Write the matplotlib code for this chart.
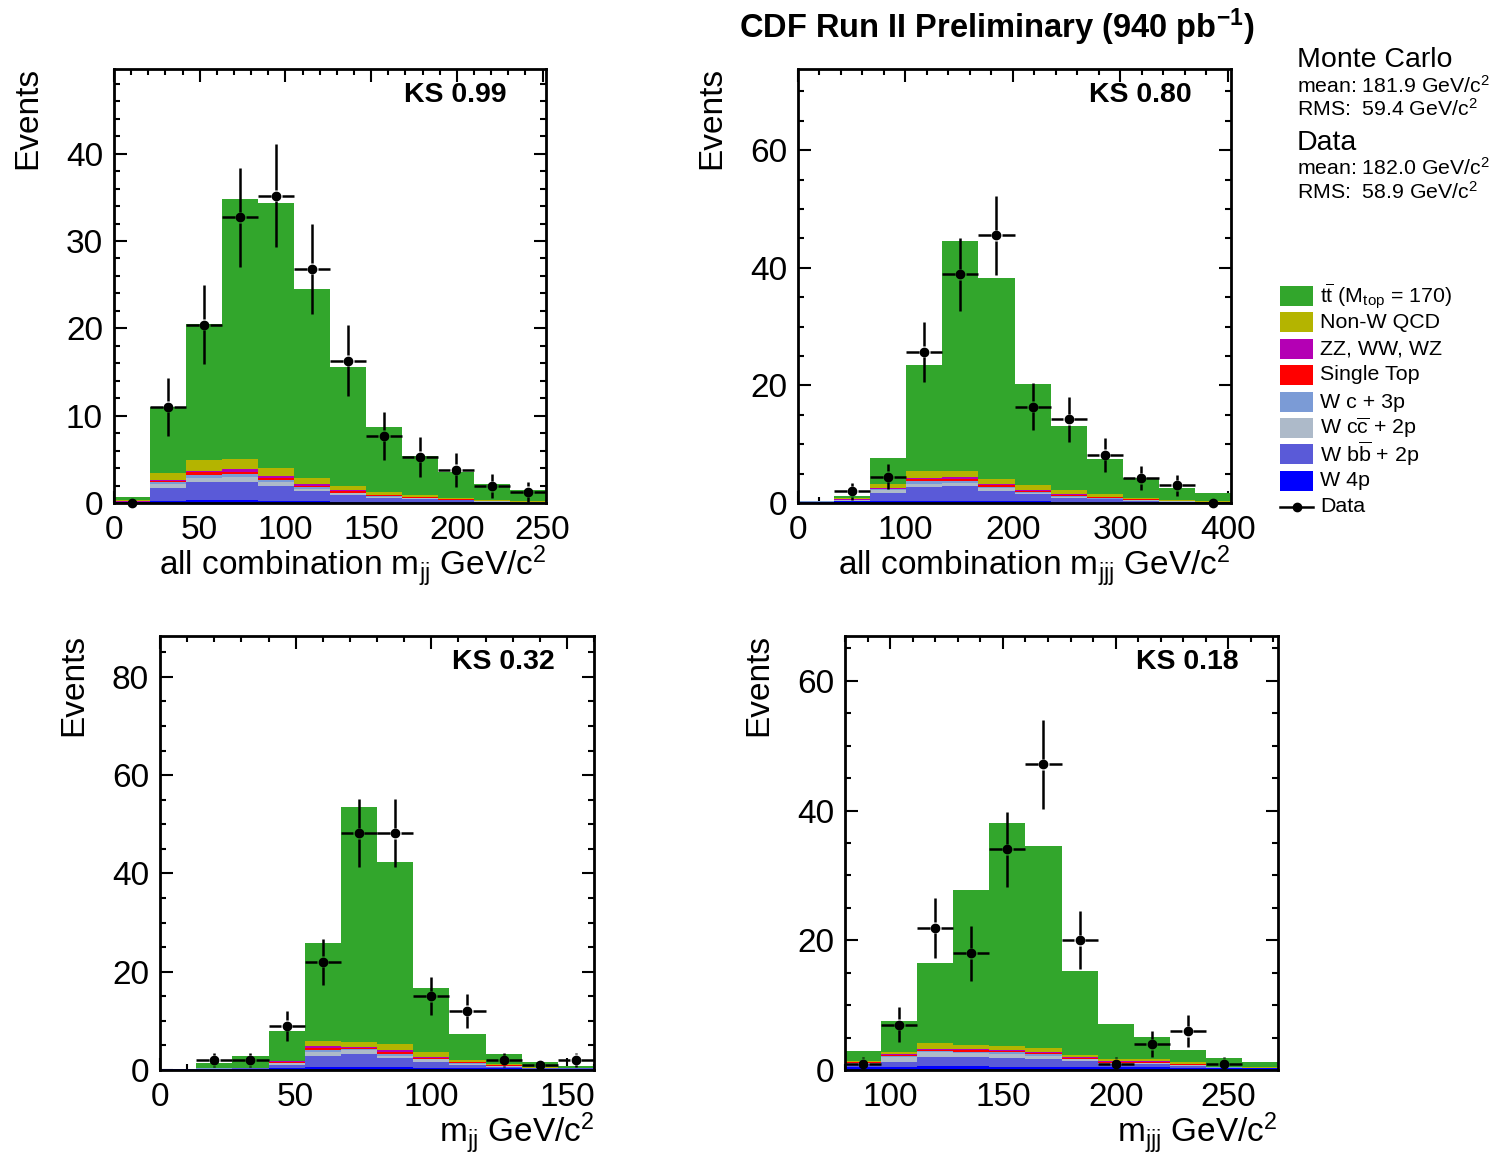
import numpy as np
import matplotlib
matplotlib.use("Agg")
import matplotlib.pyplot as plt
from matplotlib.collections import LineCollection
from matplotlib.patches import Rectangle
from matplotlib.lines import Line2D
from matplotlib.ticker import MultipleLocator

plt.rcParams['font.family'] = ['Liberation Sans', 'DejaVu Sans']
plt.rcParams['mathtext.fontset'] = 'custom'
plt.rcParams['mathtext.rm'] = 'Liberation Sans'
plt.rcParams['mathtext.it'] = 'Liberation Sans:italic'
plt.rcParams['mathtext.bf'] = 'Liberation Sans:bold'

W, H = 1494, 1157

# ---- all combination m_jj (12 bins, 0-252) ----
mjj_all_edges = np.linspace(0, 252, 13)
mjj_all_w4p = [0.1, 0.25, 0.3, 0.3, 0.25, 0.2, 0.15, 0.12, 0.1, 0.08, 0.06, 0.05]
mjj_all_wbb = [0.02, 1.51, 2.1, 2.1, 1.7, 1.14, 0.8, 0.45, 0.32, 0.22, 0.09, 0.05]
mjj_all_wcc = [0.02, 0.44, 0.5, 0.6, 0.45, 0.26, 0.15, 0.15, 0.11, 0.06, 0.04, 0.02]
mjj_all_wc = [0.01, 0.2, 0.35, 0.3, 0.2, 0.18, 0.1, 0.08, 0.05, 0.04, 0.02, 0.01]
mjj_all_st = [0.02, 0.1, 0.25, 0.25, 0.3, 0.17, 0.14, 0.07, 0.05, 0.04, 0.03, 0.02]
mjj_all_vv = [0.02, 0.1, 0.2, 0.35, 0.2, 0.25, 0.11, 0.08, 0.05, 0.03, 0.02, 0.01]
mjj_all_qcd = [0.21, 0.8, 1.2, 1.1, 0.96, 0.7, 0.55, 0.31, 0.22, 0.1, 0.14, 0.09]
mjj_all_tt = [0.3, 7.6, 15.6, 29.8, 30.3, 21.6, 13.6, 7.4, 4.5, 3.0, 1.75, 1.25]
mjj_all_data = [0, 11.0, 20.4, 32.7, 35.2, 26.8, 16.3, 7.7, 5.3, 3.8, 1.9, 1.3]

# ---- all combination m_jjj (12 bins, 0-403) ----
mjjj_all_edges = np.linspace(0, 403.2, 13)
mjjj_all_w4p = [0.2, 0.3, 0.35, 0.4, 0.4, 0.35, 0.3, 0.25, 0.2, 0.15, 0.12, 0.1]
mjjj_all_wbb = [0.04, 0.1, 1.41, 2.3, 2.44, 1.75, 1.2, 0.65, 0.4, 0.25, 0.1, 0.05]
mjjj_all_wcc = [0.01, 0.05, 0.44, 0.6, 0.56, 0.4, 0.26, 0.2, 0.15, 0.1, 0.05, 0.03]
mjjj_all_wc = [0.01, 0.05, 0.15, 0.4, 0.35, 0.2, 0.14, 0.1, 0.1, 0.05, 0.03, 0.02]
mjjj_all_st = [0.01, 0.05, 0.1, 0.3, 0.25, 0.3, 0.2, 0.2, 0.12, 0.1, 0.05, 0.03]
mjjj_all_vv = [0.01, 0.05, 0.15, 0.26, 0.4, 0.3, 0.1, 0.1, 0.08, 0.05, 0.03, 0.02]
mjjj_all_qcd = [0.02, 0.2, 0.7, 1.24, 1.05, 0.8, 0.9, 0.7, 0.55, 0.2, 0.12, 0.05]
mjjj_all_tt = [0.05, 0.34, 4.3, 17.9, 39.1, 34.2, 17.2, 10.9, 5.85, 3.36, 2.06, 1.35]
mjjj_all_data = [np.nan, 2.0, 4.5, 25.7, 38.9, 45.5, 16.4, 14.2, 8.2, 4.2, 3.0, 0]

# ---- m_jj (12 bins, 0-160) ----
mjj_edges = np.linspace(0, 160, 13)
mjj_w4p = [0.2, 0.25, 0.3, 0.4, 0.6, 0.6, 0.55, 0.45, 0.4, 0.35, 0.3, 0.3]
mjj_wbb = [0.0, 0.03, 0.1, 0.7, 2.15, 2.6, 1.95, 1.22, 0.7, 0.2, 0.08, 0.04]
mjj_wcc = [0.01, 0.02, 0.03, 0.3, 0.85, 0.8, 0.45, 0.53, 0.2, 0.2, 0.04, 0.02]
mjj_wc = [0.01, 0.01, 0.02, 0.1, 0.4, 0.2, 0.25, 0.1, 0.1, 0.1, 0.03, 0.02]
mjj_st = [0.01, 0.01, 0.01, 0.15, 0.5, 0.3, 0.5, 0.2, 0.2, 0.1, 0.03, 0.02]
mjj_vv = [0.01, 0.01, 0.02, 0.1, 0.3, 0.2, 0.3, 0.2, 0.1, 0.05, 0.02, 0.02]
mjj_qcd = [0.01, 0.02, 0.02, 0.15, 1.2, 0.9, 1.2, 0.9, 0.4, 0.3, 0.1, 0.03]
mjj_tt = [0.05, 1.05, 2.45, 6.1, 19.9, 47.9, 37.2, 13.1, 5.3, 2.0, 1.07, 0.4]
mjj_data = [np.nan, 2.0, 2.0, 9.0, 22.0, 48.2, 48.2, 15.0, 12.05, 2.0, 1.0, 2.1]

# ---- m_jjj (12 bins, 80-272) ----
mjjj_edges = np.linspace(80, 272, 13)
mjjj_w4p = [0.5, 0.5, 0.55, 0.55, 0.5, 0.5, 0.45, 0.4, 0.4, 0.35, 0.3, 0.3]
mjjj_wbb = [0.5, 0.73, 1.5, 1.45, 1.35, 1.2, 0.95, 0.55, 0.6, 0.25, 0.05, 0.0]
mjjj_wcc = [0.05, 0.72, 0.65, 0.56, 0.6, 0.5, 0.3, 0.1, 0.1, 0.1, 0.03, 0.02]
mjjj_wc = [0.05, 0.15, 0.2, 0.24, 0.25, 0.2, 0.05, 0.1, 0.05, 0.1, 0.02, 0.02]
mjjj_st = [0.1, 0.26, 0.2, 0.3, 0.2, 0.2, 0.1, 0.1, 0.15, 0.15, 0.02, 0.02]
mjjj_vv = [0.1, 0.09, 0.1, 0.2, 0.2, 0.2, 0.15, 0.15, 0.1, 0.05, 0.03, 0.02]
mjjj_qcd = [0.13, 0.35, 1.0, 0.5, 0.6, 0.6, 0.36, 0.34, 0.25, 0.2, 0.05, 0.02]
mjjj_tt = [1.57, 4.8, 12.3, 24.0, 34.3, 31.2, 12.9, 5.36, 3.45, 1.9, 1.4, 0.9]
mjjj_data = [1.0, 7.0, 21.9, 18.0, 34.0, 47.1, 20.0, 1.0, 3.95, 6.0, 1.0, np.nan]

# stack order, bottom to top
samples = ['w4p', 'wbb', 'wcc', 'wc', 'st', 'vv', 'qcd', 'tt']
colors = {
    'tt': '#32a62c', 'qcd': '#b4b400', 'vv': '#b400b4', 'st': '#ff0000',
    'wc': '#7b9bd6', 'wcc': '#adbac9', 'wbb': '#5a5ad8', 'w4p': '#0000ff',
}
legend_labels = {
    'tt': r't$\overline{\rm t}$ (M$_{\rm top}$ = 170)',
    'qcd': 'Non-W QCD',
    'vv': 'ZZ, WW, WZ',
    'st': 'Single Top',
    'wc': 'W c + 3p',
    'wcc': r'W c$\overline{\rm c}$ + 2p',
    'wbb': r'W b$\overline{\rm b}$ + 2p',
    'w4p': 'W 4p',
}

panels = [
    dict(box=(114, 69, 546, 503), edges=mjj_all_edges, ymax=49.7,
         stack=[mjj_all_w4p, mjj_all_wbb, mjj_all_wcc, mjj_all_wc, mjj_all_st,
                mjj_all_vv, mjj_all_qcd, mjj_all_tt],
         data=mjj_all_data, ks='KS 0.99', xmaj=50, xmin=10, ymaj=10, ymin=2,
         xlabel=r'all combination m$_{\rm jj}$ GeV/c$^{2}$'),
    dict(box=(798, 69, 1231, 503), edges=mjjj_all_edges, ymax=73.8,
         stack=[mjjj_all_w4p, mjjj_all_wbb, mjjj_all_wcc, mjjj_all_wc, mjjj_all_st,
                mjjj_all_vv, mjjj_all_qcd, mjjj_all_tt],
         data=mjjj_all_data, ks='KS 0.80', xmaj=100, xmin=20, ymaj=20, ymin=5,
         xlabel=r'all combination m$_{\rm jjj}$ GeV/c$^{2}$'),
    dict(box=(160, 636, 594, 1070), edges=mjj_edges, ymax=88.3,
         stack=[mjj_w4p, mjj_wbb, mjj_wcc, mjj_wc, mjj_st, mjj_vv, mjj_qcd, mjj_tt],
         data=mjj_data, ks='KS 0.32', xmaj=50, xmin=10, ymaj=20, ymin=5,
         xlabel=r'm$_{\rm jj}$ GeV/c$^{2}$'),
    dict(box=(845, 636, 1278, 1070), edges=mjjj_edges, ymax=66.9,
         stack=[mjjj_w4p, mjjj_wbb, mjjj_wcc, mjjj_wc, mjjj_st, mjjj_vv, mjjj_qcd, mjjj_tt],
         data=mjjj_data, ks='KS 0.18', xmaj=50, xmin=10, ymaj=20, ymin=5,
         xlabel=r'm$_{\rm jjj}$ GeV/c$^{2}$'),
]


def draw_data(ax, edges, vals, gap_px=5.5):
    vals = np.asarray(vals, dtype=float)
    centers = 0.5 * (edges[:-1] + edges[1:])
    bb = ax.get_window_extent()
    x0, x1 = ax.get_xlim()
    y0, y1 = ax.get_ylim()
    gx = gap_px * (x1 - x0) / bb.width
    gy = gap_px * (y1 - y0) / bb.height
    segs = []
    for lo, hi, c, v in zip(edges[:-1], edges[1:], centers, vals):
        if np.isnan(v):
            continue
        err = np.sqrt(v)
        # horizontal bin-width bars, broken around the marker
        segs.append([(lo, v), (c - gx, v)])
        segs.append([(c + gx, v), (hi, v)])
        if err > gy:
            segs.append([(c, v - err), (c, v - gy)])
            segs.append([(c, v + gy), (c, v + err)])
    ax.add_collection(LineCollection(segs, colors='black', linewidths=1.8, zorder=5))
    ok = ~np.isnan(vals)
    ax.plot(centers[ok], vals[ok], 'o', color='black', ms=6, zorder=6, clip_on=False)


fig = plt.figure(figsize=(W / 100, H / 100), dpi=100)

for p in panels:
    l, t, r, b = p['box']
    ax = fig.add_axes([l / W, 1 - b / H, (r - l) / W, (b - t) / H])
    edges = p['edges']
    ax.set_xlim(edges[0], edges[-1])
    ax.set_ylim(0, p['ymax'])

    base = np.zeros(len(edges) - 1)
    for name, vals in zip(samples, p['stack']):
        top = base + np.asarray(vals)
        ax.stairs(top, edges, baseline=base, fill=True, color=colors[name], lw=0, zorder=2)
        base = top

    draw_data(ax, edges, p['data'])

    ax.xaxis.set_major_locator(MultipleLocator(p['xmaj']))
    ax.xaxis.set_minor_locator(MultipleLocator(p['xmin']))
    ax.yaxis.set_major_locator(MultipleLocator(p['ymaj']))
    ax.yaxis.set_minor_locator(MultipleLocator(p['ymin']))
    ax.tick_params(which='both', direction='in', top=True, right=True, width=1.5,
                   labelsize=24)
    ax.tick_params(which='major', length=9)
    ax.tick_params(which='minor', length=4.5)
    ax.tick_params(axis='x', pad=8.5)
    ax.tick_params(axis='y', pad=8)
    for s in ax.spines.values():
        s.set_linewidth(2)
        s.set_zorder(10)

    fig.text((l - 86) / W, 1 - (t - 2) / H, 'Events', rotation=90,
             ha='center', va='top', fontsize=24)
    fig.text((r - 39) / W, 1 - (t + 26) / H, p['ks'], ha='right', va='center',
             fontsize=20.5, fontweight='bold')
    fig.text(r / W, 1 - (b + 73) / H, p['xlabel'], ha='right', va='baseline',
             fontsize=24)

fig.text(997 / W, 1 - 27 / H, r'CDF Run II Preliminary (940 pb$^{\mathbf{-1}}$)',
         ha='center', va='center', fontsize=23.5, fontweight='bold')

# fit summary
fig.text(1297 / W, 1 - 60 / H, 'Monte Carlo', ha='left', va='center', fontsize=20.5)
fig.text(1297 / W, 1 - 86 / H, r'mean: 181.9 GeV/c$^{2}$', ha='left', va='center', fontsize=15.3)
fig.text(1297 / W, 1 - 109 / H, r'RMS:  59.4 GeV/c$^{2}$', ha='left', va='center', fontsize=15.3)
fig.text(1297 / W, 1 - 143 / H, 'Data', ha='left', va='center', fontsize=20.5)
fig.text(1297 / W, 1 - 168 / H, r'mean: 182.0 GeV/c$^{2}$', ha='left', va='center', fontsize=15.3)
fig.text(1297 / W, 1 - 192 / H, r'RMS:  58.9 GeV/c$^{2}$', ha='left', va='center', fontsize=15.3)

# legend drawn by hand, top entry = top of stack
legend_rows = [296, 322, 349, 375, 402, 428, 454, 481]
for name, yc in zip(samples[::-1], legend_rows):
    fig.patches.append(Rectangle((1280 / W, 1 - (yc + 10) / H), 33 / W, 20 / H,
                                 transform=fig.transFigure, facecolor=colors[name],
                                 edgecolor='none'))
    fig.text(1320 / W, 1 - yc / H, legend_labels[name], ha='left', va='center', fontsize=15.4)
yd = 1 - 507 / H
fig.lines.append(Line2D([1280 / W, 1313 / W], [yd, yd], transform=fig.transFigure,
                        color='black', lw=1.8))
fig.lines.append(Line2D([1296.5 / W], [yd], transform=fig.transFigure, marker='o',
                        color='black', ms=6))
fig.text(1320 / W, yd, 'Data', ha='left', va='center', fontsize=15.4)

fig.savefig('out.png', dpi=100)
